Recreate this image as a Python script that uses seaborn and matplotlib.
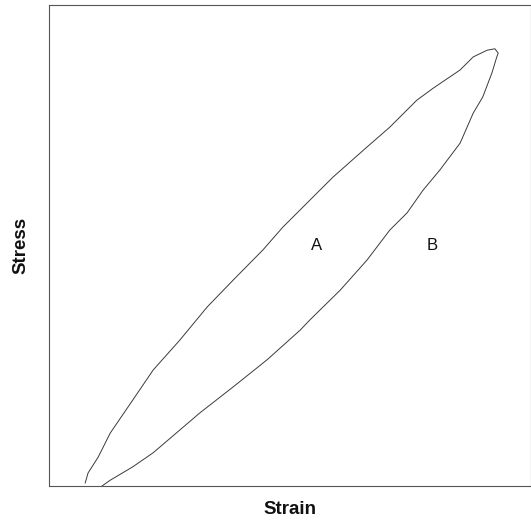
import matplotlib
matplotlib.use("Agg")
import matplotlib.pyplot as plt
import seaborn as sns
import pandas as pd

# Loading (upper-left) branch, strain/stress in arbitrary % units
upper_strain = [7.5, 8.1, 10.2, 12.7, 17.4, 21.6, 27.2, 32.8, 38.2, 44.4, 48.5, 53.5,
                58.9, 66.0, 70.7, 76.3, 79.7, 85.3, 88.0, 90.9, 92.5, 93.2]
upper_stress = [0.6, 2.7, 6.0, 11.0, 17.9, 24.1, 30.4, 37.2, 42.8, 49.1, 53.8, 58.8,
                64.2, 70.5, 74.6, 80.2, 82.7, 86.5, 89.2, 90.6, 90.9, 90.0]
# Unloading (lower-right) branch
lower_strain = [92.9, 91.9, 90.0, 88.0, 85.3, 81.1, 77.6, 74.3, 70.7, 66.0, 60.4, 54.1,
                52.1, 45.2, 38.2, 31.3, 21.6, 17.4, 12.7, 11.0]
lower_stress = [89.2, 85.9, 80.9, 77.5, 71.3, 65.7, 61.5, 56.8, 53.2, 47.0, 40.7, 34.5,
                32.4, 26.2, 20.6, 15.2, 6.9, 4.0, 1.2, 0.0]

region_labels = ["A", "B"]
region_x = [55.6, 79.5]
region_y = [50.1, 50.1]

df = pd.DataFrame({
    "strain": upper_strain + lower_strain,
    "stress": upper_stress + lower_stress,
    "order": list(range(len(upper_strain) + len(lower_strain))),
})

sns.set_theme(style="white")
plt.rcParams["font.family"] = ["Liberation Sans", "DejaVu Sans"]

fig = plt.figure(figsize=(5.31, 5.22), dpi=100)
ax = fig.add_axes([49 / 531, 36 / 522, 482 / 531, 481 / 522])

sns.lineplot(data=df, x="strain", y="stress", sort=False, estimator=None,
             color="#3a3a3a", linewidth=0.7, ax=ax)

for lab, x, y in zip(region_labels, region_x, region_y):
    ax.text(x, y, lab, fontsize=12, ha="center", va="center", color="#111111")

ax.set_xlim(0, 100)
ax.set_ylim(0, 100)
ax.set_xticks([])
ax.set_yticks([])
ax.set_xlabel("Strain", fontsize=13.5, fontweight="bold", labelpad=11, color="#111111")
ax.set_ylabel("Stress", fontsize=13.5, fontweight="bold", labelpad=14, color="#111111")
for s in ax.spines.values():
    s.set_color("#555555")
    s.set_linewidth(0.8)

fig.savefig("out.png", dpi=100)
